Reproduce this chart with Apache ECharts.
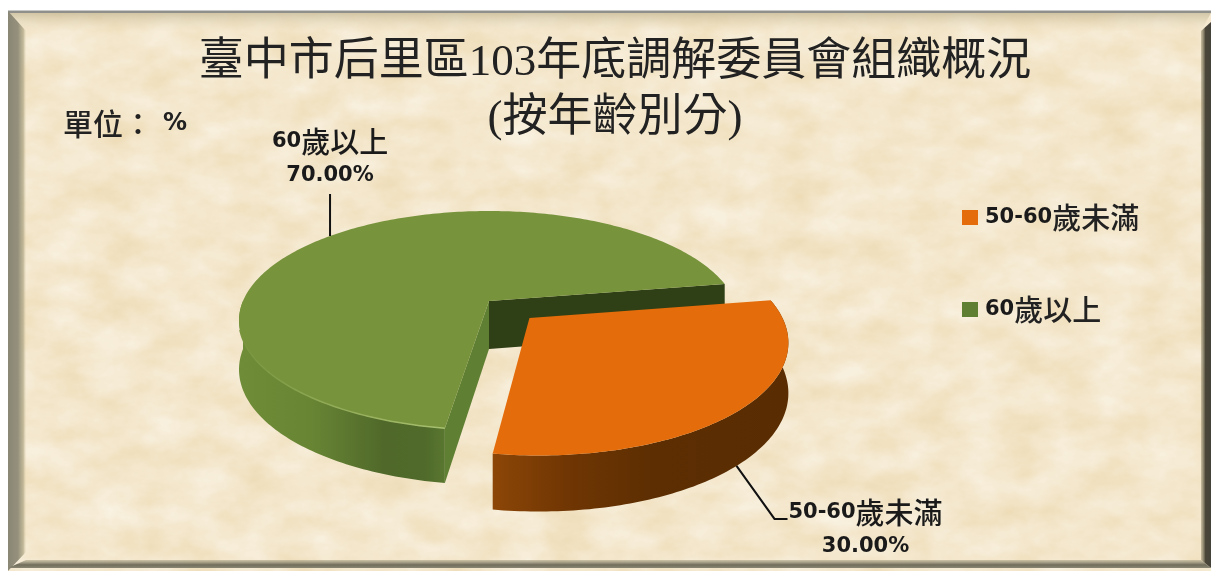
<!DOCTYPE html>
<html>
<head>
<meta charset="utf-8">
<style>
  html, body { margin: 0; padding: 0; background: #fff; overflow: hidden; }
  #bg { position: absolute; left: 0; top: 0; }
  #chart { position: absolute; left: 0; top: 0; width: 1211px; height: 573px; }
</style>
</head>
<body>
<svg id="bg" width="1211" height="573" xmlns="http://www.w3.org/2000/svg">
  <defs>
    <filter id="paper" x="0" y="0" width="100%" height="100%" color-interpolation-filters="sRGB">
      <feTurbulence type="fractalNoise" baseFrequency="0.022 0.034" numOctaves="5" seed="11"/>
      <feColorMatrix type="matrix" values="0.05 0 0 0 0.93  0.10 0 0 0 0.855  0.20 0 0 0 0.70  0 0 0 0 1"/>
    </filter>
    <linearGradient id="edgeL" x1="0" x2="1" y1="0" y2="0">
      <stop offset="0" stop-color="#8b8776"/>
      <stop offset="0.55" stop-color="#94907c"/>
      <stop offset="0.85" stop-color="#b5ac8b" stop-opacity="0.8"/>
      <stop offset="1" stop-color="#d8ccaa" stop-opacity="0.1"/>
    </linearGradient>
    <linearGradient id="edgeT" x1="0" x2="0" y1="0" y2="1">
      <stop offset="0" stop-color="#c9bd9c" stop-opacity="0.8"/>
      <stop offset="1" stop-color="#eadcbc" stop-opacity="0.05"/>
    </linearGradient>
    <linearGradient id="edgeR" x1="0" x2="1" y1="0" y2="0">
      <stop offset="0" stop-color="#9a9171" stop-opacity="0.5"/>
      <stop offset="0.45" stop-color="#4a4638"/>
      <stop offset="1" stop-color="#45423a"/>
    </linearGradient>
    <linearGradient id="edgeB" x1="0" x2="0" y1="0" y2="1">
      <stop offset="0" stop-color="#b2aa8c" stop-opacity="0.6"/>
      <stop offset="0.6" stop-color="#716d5c"/>
      <stop offset="1" stop-color="#8a8674"/>
    </linearGradient>
  </defs>
  <rect x="8" y="11" width="1203" height="560" filter="url(#paper)"/>
  <polygon points="8,13 1211,13 1201,31 26,31" fill="url(#edgeT)"/>
  <rect x="8" y="10.5" width="1203" height="2.5" fill="#8f8f8c"/>
  <polygon points="8,11 26,31 26,552 8,571" fill="url(#edgeL)"/>
  <polygon points="1211,22 1211,568 1201,560 1201,31" fill="url(#edgeR)"/>
  <polygon points="8,568 1211,568 1201,560 26,560" fill="url(#edgeB)"/>
</svg>
<div id="chart"></div>
<script src="https://cdn.jsdelivr.net/npm/echarts@6/dist/echarts.min.js"></script>
<script>
const titleText = '臺中市后里區103年底調解委員會組織概況\n(按年齡別分)'
const categories = ['50-60歲未滿', '60歲以上']
const values = [30, 70]

const topColors = ['#e46c0a', '#77933c']
const explode = [0.224, 0]
const startAngle = -9.5

// fake 3D: circle in the plane, pushed through a simple perspective
const cx = 489, cy = 301, R = 246, K = 106, persp = 0.178, depth = 48
function project(u, v, dz) {
  const s = 1 - persp * v
  return [cx + R * u / s, cy + K * v / s + dz / (1 - 0.7 * persp * v)]
}
const rad = d => d * Math.PI / 180
const total = values.reduce((a, b) => a + b, 0)

// each slice's angle range comes from the values
const slices = []
let acc = startAngle
values.forEach(v => {
  slices.push({ from: acc, to: acc + v / total * 360 })
  acc += v / total * 360
})

function sliceGeom(i, value) {
  const from = slices[i].from
  const to = from + value / total * 360
  const mid = (from + to) / 2
  const ox = explode[i] * Math.cos(rad(mid))
  const oy = explode[i] * Math.sin(rad(mid))
  const at = (deg, dz) => project(Math.cos(rad(deg)) + ox, Math.sin(rad(deg)) + oy, dz)
  const arc = (a, b, dz) => {
    const pts = []
    const n = Math.ceil(Math.abs(b - a))
    for (let k = 0; k <= n; k++) pts.push(at(a + (b - a) * k / n, dz))
    return pts
  }
  const apex = dz => project(ox, oy, dz)
  return { from, to, mid, at, arc, apex }
}

const grad = stops => new echarts.graphic.LinearGradient(0, 0, 1, 0,
  stops.map(s => ({ offset: s[0], color: s[1] })))

const latinStyle = { fontFamily: 'DejaVu Sans', fontWeight: 'bold', fontSize: 21, color: '#1a1a1a' }
const cjkStyle = { fontFamily: 'Noto Sans CJK TC', fontWeight: 500, fontSize: 29, color: '#222' }
const richName = name => name.replace(/[^\x00-\x7f]+/g, m => '{c|' + m + '}').replace(/(^|\})([\x00-\x7f]+?)(\{|$)/g, '$1{n|$2}$3')
const labelRich = {
  n: { ...latinStyle, lineHeight: 34 },
  c: { ...cjkStyle, lineHeight: 34 },
  p: { ...latinStyle, lineHeight: 34 }
}

function renderGreen(params, api) {
  const g = sliceGeom(1, api.value(0))
  const ring = g.arc(g.from, g.to, 0)
  const wallTop = g.arc(g.from, Math.min(g.to, 180), 0)
  const wallBottom = g.arc(g.from, Math.min(g.to, 180), depth)
  const tail = g.to
  const anchor = g.at(g.mid - 1, 0)
  return {
    type: 'group',
    children: [
      // dark cut face at the back
      { type: 'polygon', shape: { points: [g.apex(0), g.at(tail, 0), g.at(tail, depth), g.apex(depth)] },
        style: { fill: '#2f3f16' } },
      // lit cut face at the front
      { type: 'polygon', shape: { points: [g.apex(0), g.at(g.from, 0), g.at(g.from, depth), g.apex(depth)] },
        style: { fill: '#5f7f33' } },
      { type: 'polygon', shape: { points: wallTop.concat(wallBottom.reverse()) },
        style: { fill: grad([[0, '#6f8c38'], [0.35, '#688534'], [0.7, '#50692a'], [0.9, '#4f6a2a'], [1, '#5a7730']]) } },
      { type: 'polygon', shape: { points: ring.concat([g.apex(0)]) }, style: { fill: topColors[1] } },
      { type: 'polyline', shape: { points: g.arc(g.from, Math.min(g.to, 165), 0) },
        style: { fill: 'none', lineWidth: 1.5, stroke: grad([[0, '#77933c'], [0.4, '#8fa955'], [1, '#a8c070']]) } },
      { type: 'polyline', shape: { points: [anchor, [anchor[0], anchor[1] - 42]] },
        style: { fill: 'none', stroke: '#111', lineWidth: 2 } },
      { type: 'text', x: anchor[0], y: anchor[1] - 43,
        style: { text: richName(categories[1]) + '\n{p|' + api.value(0).toFixed(2) + '%}',
          rich: labelRich, align: 'center', verticalAlign: 'bottom', fill: '#1a1a1a' } }
    ]
  }
}

function renderOrange(params, api) {
  const g = sliceGeom(0, api.value(0))
  const ring = g.arc(g.from, g.to, 0)
  const wallBottom = g.arc(g.from, g.to, depth)
  const anchor = g.at(g.mid + 2, depth)
  const elbow = [anchor[0] + 38, anchor[1] + 53]
  return {
    type: 'group',
    children: [
      { type: 'polygon', shape: { points: ring.concat(wallBottom.slice().reverse()) },
        style: { fill: grad([[0, '#8c4607'], [0.25, '#703603'], [0.55, '#5c2e02'], [1, '#5a2c02']]) } },
      { type: 'polygon', shape: { points: ring.concat([g.apex(0)]) }, style: { fill: topColors[0] } },
      { type: 'polyline', shape: { points: [anchor, elbow, [elbow[0] + 13, elbow[1]]] },
        style: { fill: 'none', stroke: '#111', lineWidth: 2 } },
      { type: 'text', x: elbow[0] + 91, y: elbow[1] - 23,
        style: { text: richName(categories[0]) + '\n{p|' + api.value(0).toFixed(2) + '%}',
          rich: labelRich, align: 'center', verticalAlign: 'top', fill: '#1a1a1a' } }
    ]
  }
}

const chart = echarts.init(document.getElementById('chart'))
chart.setOption({
  animation: false,
  backgroundColor: 'transparent',
  title: [{
    text: titleText,
    left: 615,
    top: 35,
    padding: 0,
    textAlign: 'center',
    textStyle: { fontFamily: 'Liberation Serif, Noto Sans CJK TC', fontWeight: 'normal', fontSize: 45, lineHeight: 56, color: '#222' }
  }, {
    text: '{c|單位：}{p|%}',
    left: 63,
    top: 109,
    padding: 0,
    textStyle: { rich: {
      c: { fontFamily: 'Noto Sans CJK TC', fontWeight: 500, fontSize: 30, color: '#222' },
      p: { fontFamily: 'DejaVu Sans', fontWeight: 'bold', fontSize: 24, color: '#222', padding: [0, 0, 0, 10] }
    } }
  }],
  legend: {
    orient: 'vertical',
    left: 957,
    top: 198,
    itemWidth: 16,
    itemHeight: 15,
    itemGap: 63,
    icon: 'rect',
    data: categories,
    formatter: richName,
    textStyle: { padding: [0, 0, 0, 2], rich: { n: latinStyle, c: cjkStyle } }
  },
  series: [
    { type: 'custom', name: categories[1], coordinateSystem: 'none', silent: true,
      itemStyle: { color: '#5f7f33' }, data: [[values[1]]], renderItem: renderGreen, z: 1 },
    { type: 'custom', name: categories[0], coordinateSystem: 'none', silent: true,
      itemStyle: { color: topColors[0] }, data: [[values[0]]], renderItem: renderOrange, z: 2 }
  ]
})
</script>
</body>
</html>
